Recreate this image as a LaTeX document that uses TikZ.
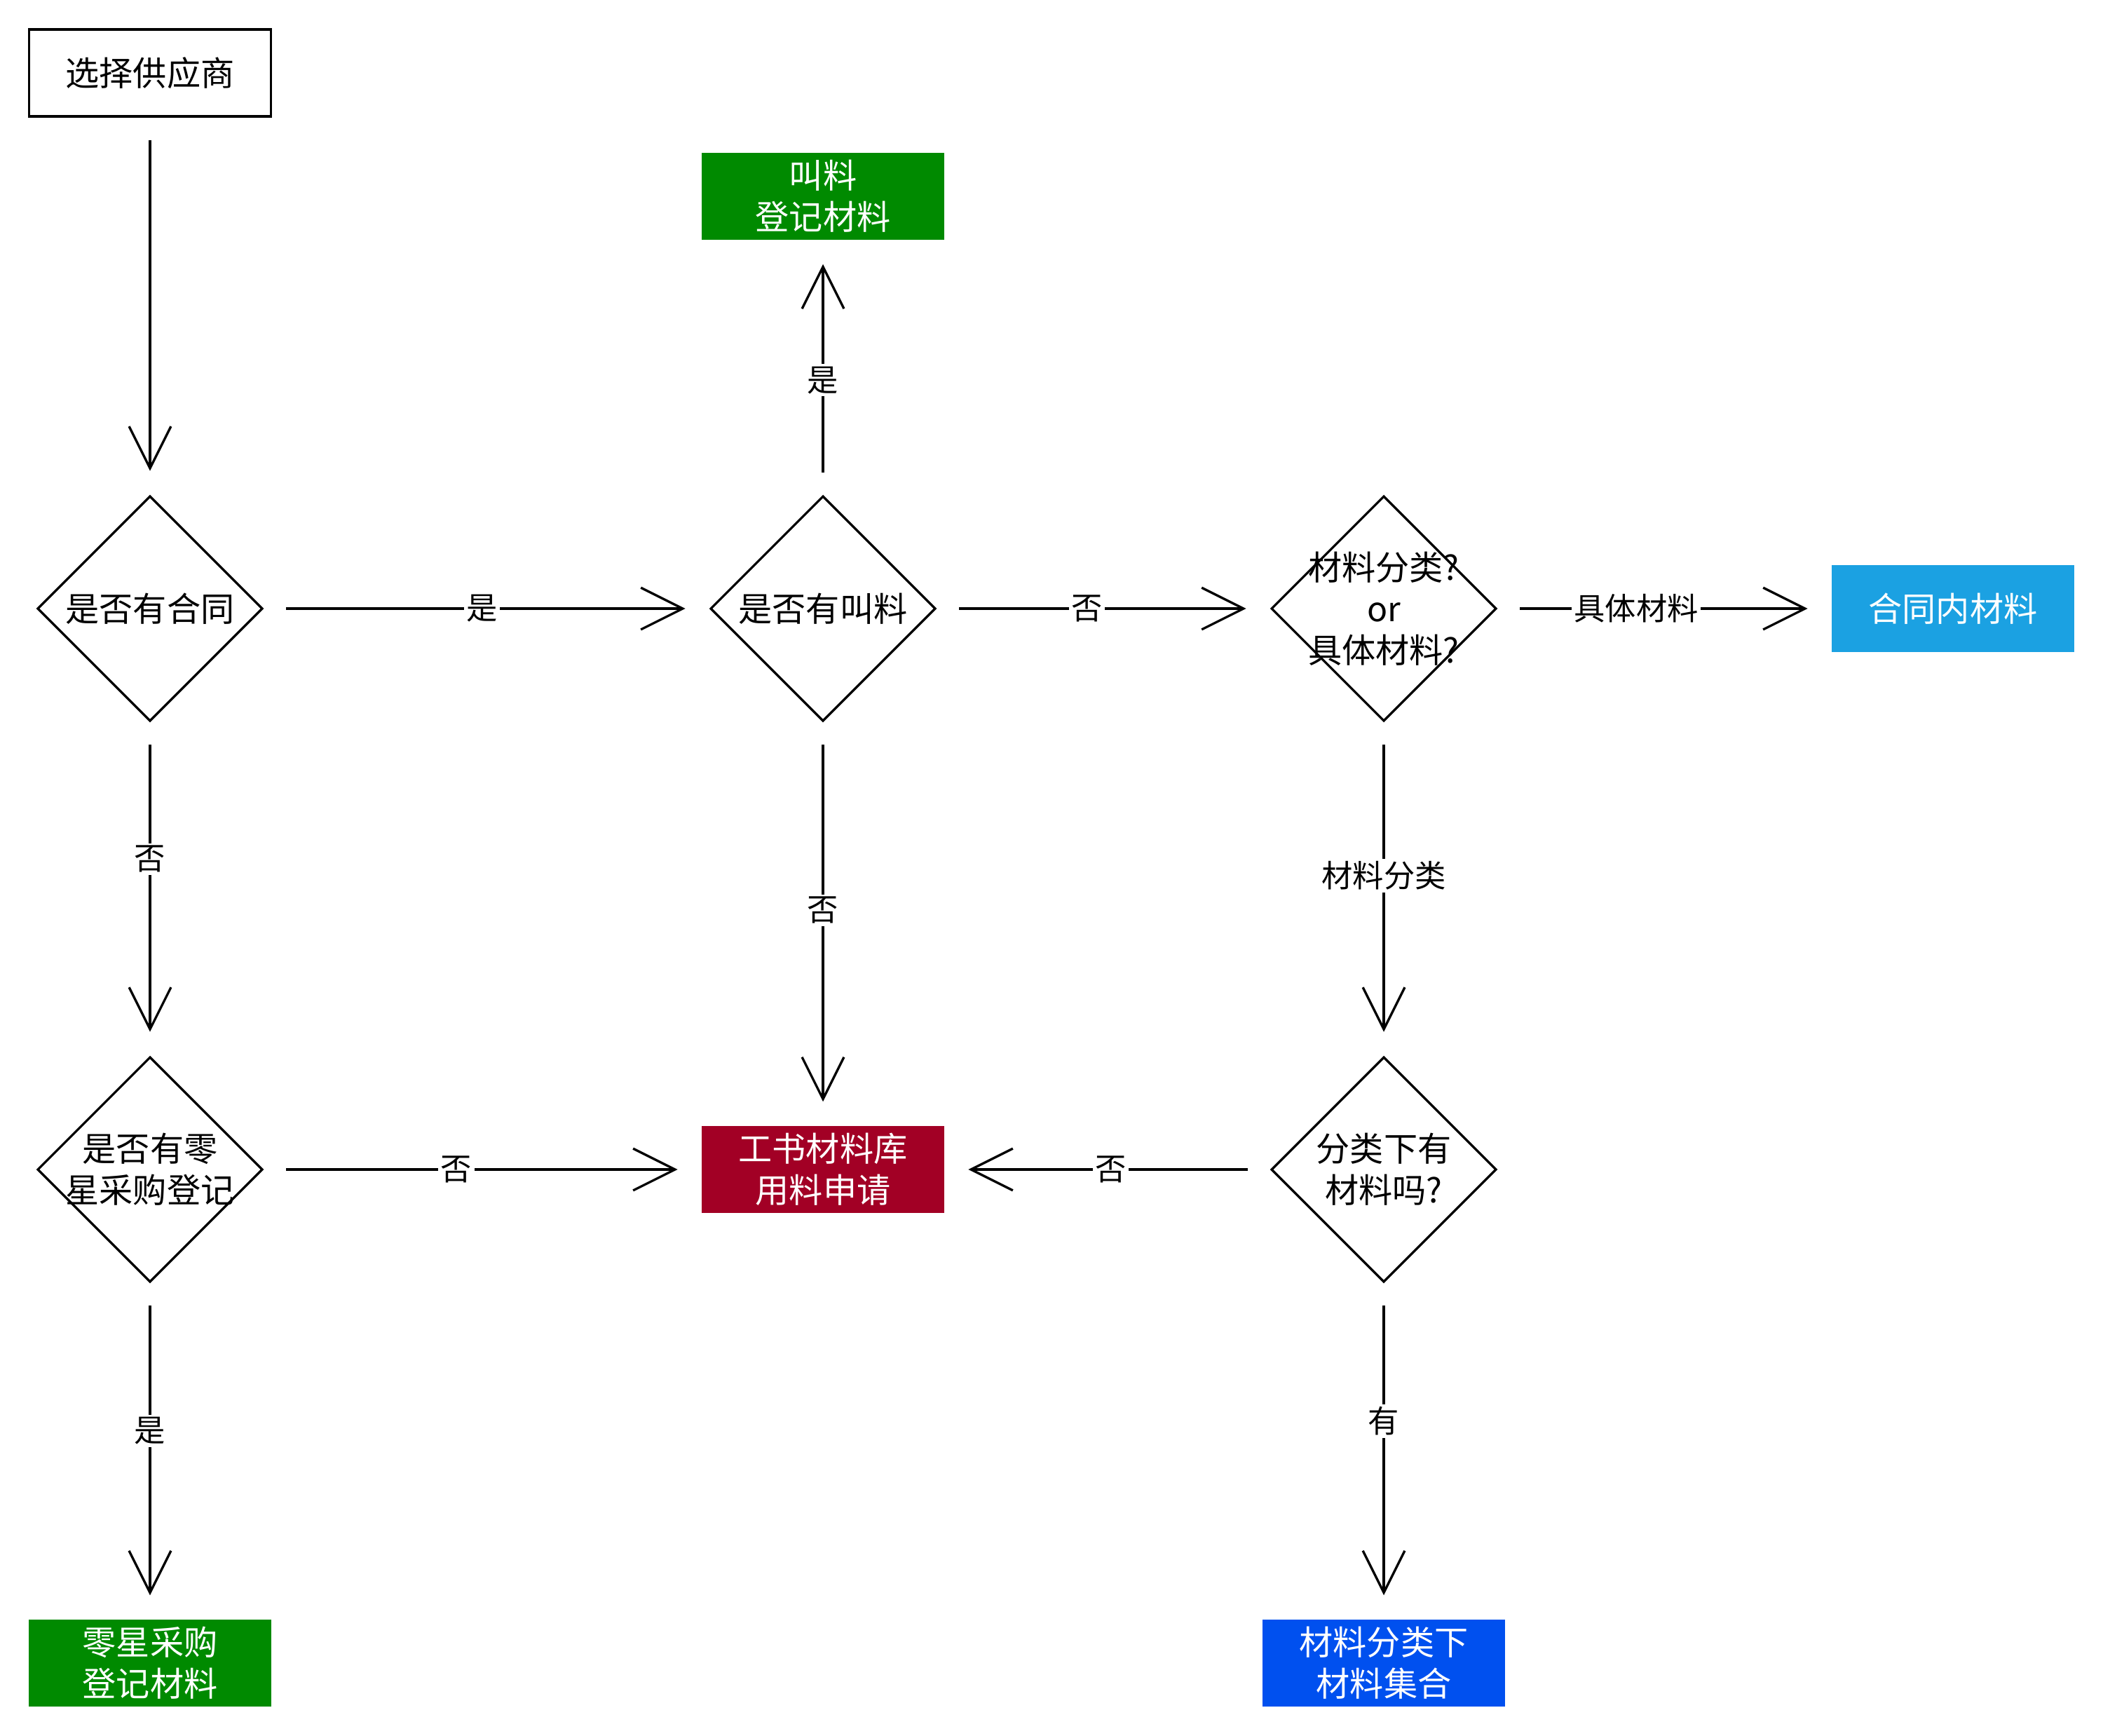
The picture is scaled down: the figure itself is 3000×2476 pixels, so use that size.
\documentclass[tikz,border=0pt]{standalone}
\usepackage{fontspec}
\setmainfont{Noto Sans CJK SC}
\usetikzlibrary{arrows.meta,shapes.geometric}
\definecolor{cgreen}{HTML}{008A00}
\definecolor{ccrimson}{HTML}{A20025}
\definecolor{csky}{HTML}{1BA1E2}
\definecolor{ccobalt}{HTML}{0050EF}
\newcommand\fa{\fontsize{13.7}{16.8}\selectfont}
\newcommand\fb{\fontsize{12.6}{14}\selectfont}
\begin{document}
\begin{tikzpicture}[x=0.01cm,y=-0.01cm,
 box/.style={rectangle, minimum width=3.45cm, minimum height=1.24cm, inner sep=0pt, align=center, font=\fa},
 plainbox/.style={box, draw, line width=0.95pt},
 filled/.style={box, fill=#1, text=white},
 dia/.style={diamond, draw, line width=0.95pt, minimum width=3.21cm, minimum height=3.21cm, inner sep=0pt, shape aspect=1},
 dtext/.style={align=center, font=\fa, inner sep=0pt},
 conn/.style={line width=0.95pt, -{Straight Barb[length=17pt,width=17pt,line width=0.95pt]}, shorten <=0.32cm, shorten >=0.34cm},
 lab/.style={fill=white, inner sep=1pt, font=\fb}]
\useasboundingbox (0,0) rectangle (3000,2476);

\node[plainbox] (sup) at (214,104) {选择供应商};
\node[dia] (d1) at (214,868) {};
\node[dtext] at (d1) {是否有合同};
\node[dia] (d2) at (1174,868) {};
\node[dtext] at (d2) {是否有叫料};
\node[dia] (d3) at (1974,868) {};
\node[dtext] at (d3) {材料分类?\\or\\具体材料?};
\node[dia] (d4) at (214,1668) {};
\node[dtext] at (d4) {是否有零\\星采购登记};
\node[dia] (d5) at (1974,1668) {};
\node[dtext] at (d5) {分类下有\\材料吗?};

\node[filled=cgreen] (cb) at (1174,280) {叫料\\登记材料};
\node[filled=csky] (htn) at (2786,868) {合同内材料};
\node[filled=ccrimson] (ws) at (1174,1668) {工书材料库\\用料申请};
\node[filled=cgreen] (lx) at (214,2372) {零星采购\\登记材料};
\node[filled=ccobalt] (cl) at (1974,2372) {材料分类下\\材料集合};

\draw[conn] (sup) -- (d1);
\draw[conn] (d1) -- node[lab,pos=0.49]{是} (d2);
\draw[conn] (d2) -- node[lab,pos=0.45]{是} (cb);
\draw[conn] (d2) -- node[lab,pos=0.45]{否} (d3);
\draw[conn] (d3) -- node[lab,pos=0.415]{具体材料} (htn);
\draw[conn] (d3) -- node[lab,pos=0.46]{材料分类} (d5);
\draw[conn] (d1) -- node[lab,pos=0.41]{否} (d4);
\draw[conn] (d2) -- node[lab,pos=0.466]{否} (ws);
\draw[conn] (d4) -- node[lab,pos=0.44]{否} (ws);
\draw[conn] (d5) -- node[lab,pos=0.49]{否} (ws);
\draw[conn] (d4) -- node[lab,pos=0.44]{是} (lx);
\draw[conn] (d5) -- node[lab,pos=0.41]{有} (cl);
\end{tikzpicture}
\end{document}
